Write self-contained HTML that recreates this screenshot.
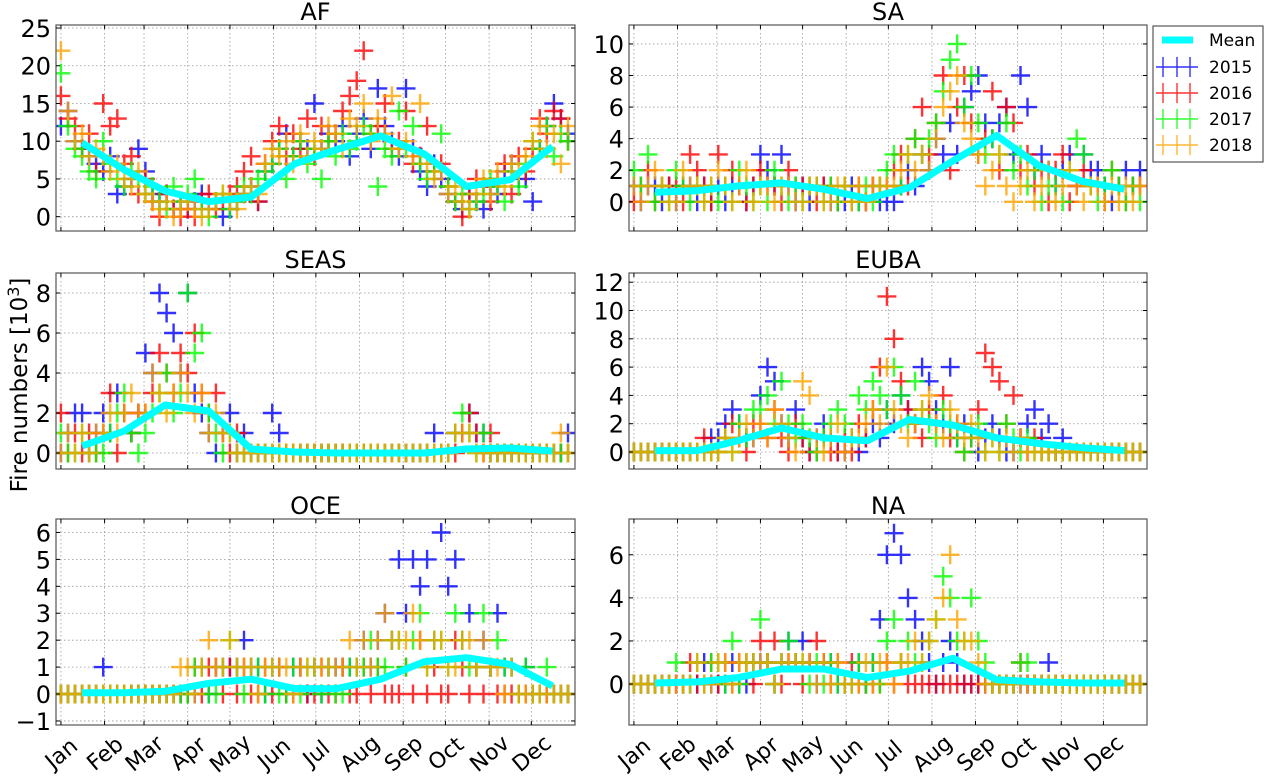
<!DOCTYPE html>
<html><head><meta charset="utf-8">
<style>
html,body{margin:0;padding:0;background:#fff;}
svg{display:block;font-family:"DejaVu Sans","Liberation Sans",sans-serif;}
</style></head>
<body>
<svg id="chart" width="1266" height="776" viewBox="0 0 1266 776" xmlns="http://www.w3.org/2000/svg"></svg>
<script>
// ---- data ----
const monthLabels = ["Jan","Feb","Mar","Apr","May","Jun","Jul","Aug","Sep","Oct","Nov","Dec"];
const monthStarts = [0,31,59,90,120,151,181,212,243,273,304,334];
const monthMids = [15,45,74,105,135,166,196,227,258,288,319,349];
const sampleStep = 5; // days between plotted samples
const years = ["2015","2016","2017","2018"];
const yearColors = ["#0000ff","#ff0000","#00ff00","#ffa500"];
const panelNames = ["AF","SA","SEAS","EUBA","OCE","NA"];

const meanAF = [9.8,6.2,3.4,2.0,2.6,7.0,8.9,10.7,8.3,4.0,4.9,9.3];
const meanSA = [0.6,0.7,1.0,1.2,0.8,0.2,0.9,2.6,4.2,2.3,1.3,0.8];
const meanSEAS = [0.35,1.1,2.4,2.1,0.2,0.05,0,0,0,0.2,0.25,0.1];
const meanEUBA = [0.1,0.1,0.8,1.7,1.0,0.8,2.3,1.9,1.0,0.6,0.3,0.1];
const meanOCE = [0.05,0.05,0.1,0.4,0.55,0.2,0.2,0.55,1.2,1.35,1.1,0.3];
const meanNA = [0.05,0.1,0.3,0.7,0.7,0.3,0.6,1.2,0.2,0.1,0.05,0.05];

const AF2015 = [12,14,10,9,8,7, 6,8,3,4,5,9, 6,3,2,3,1,2, 1,2,3,1,2,0, 1,2,3,4,2,6, 7,9,11,8,10,9, 15,9,11,10,12,8, 11,13,9,17,12,10, 8,17,9,6,4,7, 5,3,2,1,3,2, 1,4,3,6,7,5, 5,2,9,12,15,13,11];
const AF2016 = [16,13,12,9,11,6, 15,12,13,7,8,3, 5,2,0,3,1,0, 1,0,2,3,1,2, 3,4,6,8,2,7, 10,12,8,11,9,13, 8,12,10,11,14,16, 18,22,11,12,15,9, 10,14,7,8,12,6, 7,4,2,0,3,5, 4,2,5,7,3,8, 6,9,13,11,14,13,10];
const AF2017 = [19,12,9,8,6,5, 10,7,5,4,6,5, 3,4,2,1,4,2, 3,5,1,0,2,3, 1,2,4,3,5,6, 7,9,5,8,10,7, 9,5,10,8,11,9, 10,12,11,4,9,8, 14,9,12,7,5,6, 11,4,2,3,1,2, 3,5,4,2,6,4, 7,10,9,12,8,11,10];
const AF2018 = [22,14,10,11,8,9, 8,6,7,5,4,6, 3,2,1,2,0,1, 2,1,0,1,2,3, 2,1,3,4,3,7, 9,8,10,7,11,8, 10,9,12,11,9,13, 12,15,10,13,11,16, 9,10,8,15,7,5, 6,3,4,2,1,3, 5,3,6,4,7,6, 8,10,12,9,11,7,12];

const SA2015 = [1,0,1,1,0,1, 0,1,1,0,1,0, 1,0,1,1,0,1, 3,2,1,3,1,0, 1,0,1,1,0,0, 0,1,0,0,1,0, 0,0,1,2,1,3, 2,4,3,5,3,6, 7,8,5,4,5,6, 3,8,6,2,3,2, 1,2,3,1,3,2, 2,1,0,1,2,1,2];
const SA2016 = [0,1,2,0,1,1, 1,0,3,2,1,0, 3,1,2,1,0,1, 2,1,1,0,2,1, 1,1,0,1,1,0, 1,0,1,0,1,1, 1,2,3,1,4,6, 3,5,8,2,6,8, 5,3,4,7,2,6, 5,2,3,1,2,0, 2,3,0,1,2,1, 1,0,2,1,0,1,1];
const SA2017 = [2,1,3,0,1,0, 2,1,0,1,0,1, 0,1,0,2,1,0, 1,0,2,1,0,1, 0,1,1,0,1,0, 1,0,0,1,0,1, 2,3,1,3,4,3, 4,5,7,9,10,6, 8,5,3,4,3,5, 2,3,1,2,0,1, 1,0,2,4,3,1, 0,1,2,1,0,1,0];
const SA2018 = [1,0,1,2,1,0, 0,2,1,1,0,1, 2,1,0,1,2,0, 1,1,0,1,1,0, 0,1,1,0,0,1, 1,0,1,0,1,1, 1,1,2,3,2,3, 2,4,6,7,8,5, 4,3,1,2,3,1, 0,1,2,0,1,2, 0,1,2,1,0,1, 1,0,1,0,1,0,1];

const SEAS2015 = [0,1,2,2,0,1, 2,1,3,2,1,2, 5,4,8,7,6,4, 8,3,2,1,0,1, 2,0,1,0,0,0, 2,1,0,0,0,0, 0,0,0,0,0,0, 0,0,0,0,0,0, 0,0,0,0,0,1, 0,0,1,1,2,1, 1,0,0,0,0,0, 0,0,0,0,0,0,1];
const SEAS2016 = [2,0,1,0,1,0, 1,3,0,2,1,2, 2,3,5,4,3,5, 4,6,3,2,3,1, 0,1,0,0,0,0, 0,0,0,0,0,0, 0,0,0,0,0,0, 0,0,0,0,0,0, 0,0,0,0,0,0, 0,0,0,1,2,1, 0,1,0,0,0,0, 0,0,0,0,0,0,0];
const SEAS2017 = [1,0,0,1,0,0, 0,1,2,3,1,0, 1,2,3,4,2,3, 8,5,6,2,1,0, 1,0,0,0,0,0, 0,0,0,0,0,0, 0,0,0,0,0,0, 0,0,0,0,0,0, 0,0,0,0,0,0, 0,0,1,2,1,0, 1,0,0,0,0,0, 0,0,0,0,0,0,0];
const SEAS2018 = [0,1,0,1,0,1, 1,2,1,2,3,2, 2,4,3,2,3,4, 3,2,3,1,2,1, 1,0,0,0,0,0, 0,0,0,0,0,0, 0,0,0,0,0,0, 0,0,0,0,0,0, 0,0,0,0,0,0, 0,0,1,1,1,0, 0,0,0,0,0,0, 0,0,0,0,0,1,0];

const EUBA2015 = [0,0,0,0,0,0, 0,0,0,0,0,1, 1,2,3,2,1,1, 4,6,5,2,1,3, 1,0,1,2,1,0, 0,1,0,1,2,1, 3,2,4,3,2,6, 5,3,2,6,1,2, 1,0,1,2,1,0, 0,1,2,3,1,2, 0,1,0,0,0,0, 0,0,0,0,0,0,0];
const EUBA2016 = [0,0,0,0,0,0, 0,0,0,0,1,0, 0,1,2,1,0,2, 2,1,3,1,0,2, 1,0,0,1,0,0, 1,0,2,1,3,6, 11,8,5,3,2,1, 3,2,4,1,2,0, 1,3,7,6,5,2, 4,1,0,1,0,0, 0,0,0,0,0,0, 0,0,0,0,0,0,0];
const EUBA2017 = [0,0,0,0,0,0, 0,0,0,0,0,0, 0,1,0,2,1,3, 3,4,2,5,2,1, 2,1,0,1,2,3, 2,1,4,3,5,4, 3,6,4,2,5,3, 2,1,3,2,1,0, 1,2,0,1,0,2, 1,0,1,0,0,0, 0,0,0,0,0,0, 0,0,0,0,0,0,0];
const EUBA2018 = [0,0,0,0,0,0, 0,0,0,0,0,0, 0,1,0,1,2,1, 2,1,3,2,1,0, 5,4,1,0,1,2, 0,1,1,2,3,2, 6,3,2,1,2,3, 4,2,1,3,2,1, 2,1,0,1,0,1, 0,1,0,0,0,0, 0,0,0,0,0,0, 0,0,0,0,0,0,0];

const OCE2015 = [0,0,0,0,0,0, 1,0,0,0,0,0, 0,0,0,0,0,0, 0,0,1,0,1,1, 1,1,2,1,1,0, 1,1,0,1,1,0, 1,0,1,1,1,1, 1,2,1,2,3,2, 5,3,5,4,5,2, 6,4,5,2,3,1, 2,1,3,1,1,0, 1,0,0,0,0,0,0];
const OCE2016 = [0,0,0,0,0,0, 0,0,0,0,0,0, 0,0,0,0,0,0, 0,1,0,1,1,0, 1,0,1,0,0,1, 0,1,0,0,1,0, 0,1,0,0,1,0, 0,1,0,1,0,0, 0,1,0,2,0,1, 0,0,2,1,0,1, 0,1,0,0,0,0, 0,0,0,0,0,0,0];
const OCE2017 = [0,0,0,0,0,0, 0,0,0,0,0,0, 0,0,0,0,0,0, 0,1,1,0,0,1, 2,1,0,1,1,0, 1,0,0,1,0,1, 1,0,1,0,0,1, 1,1,2,1,1,2, 2,1,2,3,1,2, 2,1,3,2,1,1, 3,1,2,1,1,0, 1,0,0,1,0,0,0];
const OCE2018 = [0,0,0,0,0,0, 0,0,0,0,0,0, 0,0,0,0,0,1, 1,0,1,2,1,1, 2,1,1,1,0,1, 1,1,1,0,1,1, 1,1,1,1,1,2, 1,2,1,2,3,2, 2,2,3,2,1,2, 2,1,1,2,2,1, 2,1,1,0,1,0, 0,0,0,0,0,0,0];

const NA2015 = [0,0,0,0,0,0, 0,0,0,0,1,0, 0,0,1,0,0,1, 1,1,0,1,2,1, 2,1,0,1,1,0, 0,0,1,0,1,3, 6,7,6,4,3,2, 1,0,1,2,1,0, 0,0,0,0,0,0, 0,0,0,0,0,1, 0,0,0,0,0,0, 0,0,0,0,0,0,0];
const NA2016 = [0,0,0,0,0,0, 0,0,1,0,0,1, 0,1,0,1,1,0, 2,1,2,0,1,1, 0,1,2,1,0,1, 0,1,0,0,0,0, 1,0,1,0,0,0, 0,0,0,0,0,0, 0,0,0,0,0,0, 0,1,0,0,0,0, 0,0,0,0,0,0, 0,0,0,0,0,0,0];
const NA2017 = [0,0,0,0,0,0, 1,0,0,1,0,1, 1,0,2,0,1,1, 3,1,0,1,2,1, 1,0,1,0,1,0, 0,0,1,0,1,0, 2,3,1,2,1,1, 2,3,5,4,2,2, 4,2,1,0,0,0, 0,1,1,0,0,0, 0,0,0,0,0,0, 0,0,0,0,0,0,0];
const NA2018 = [0,0,0,0,0,0, 0,0,0,1,0,0, 1,1,0,1,1,1, 1,1,0,1,1,1, 1,1,0,1,0,1, 0,0,0,1,0,1, 1,0,1,1,2,1, 2,3,4,6,3,2, 2,1,0,0,0,0, 0,0,0,0,0,0, 0,0,0,0,0,0, 0,0,0,0,0,0,0];

const ticksAF = [0,5,10,15,20,25];
const ticksSA = [0,2,4,6,8,10];
const ticksSEAS = [0,2,4,6,8];
const ticksEUBA = [0,2,4,6,8,10,12];
const ticksOCE = [-1,0,1,2,3,4,5,6];
const ticksNA = [0,2,4,6];

// ---- layout ----
const NS = "http://www.w3.org/2000/svg";
const svg = document.getElementById("chart");
function mk(tag, attrs, parent){
  const e = document.createElementNS(NS, tag);
  for (const k in attrs) e.setAttribute(k, attrs[k]);
  (parent||svg).appendChild(e);
  return e;
}
const cols = [[56,575],[629,1147]];
const rows = [[25,231],[273,469],[519,725]];
const panels = [
  {name:"AF", c:0, r:0, ylim:[-1.9,25.4], ticks:ticksAF, mean:meanAF, series:[AF2015,AF2016,AF2017,AF2018]},
  {name:"SA", c:1, r:0, ylim:[-1.85,11.2], ticks:ticksSA, mean:meanSA, series:[SA2015,SA2016,SA2017,SA2018]},
  {name:"SEAS", c:0, r:1, ylim:[-0.8,9.0], ticks:ticksSEAS, mean:meanSEAS, series:[SEAS2015,SEAS2016,SEAS2017,SEAS2018]},
  {name:"EUBA", c:1, r:1, ylim:[-1.2,12.65], ticks:ticksEUBA, mean:meanEUBA, series:[EUBA2015,EUBA2016,EUBA2017,EUBA2018]},
  {name:"OCE", c:0, r:2, ylim:[-1.15,6.5], ticks:ticksOCE, mean:meanOCE, series:[OCE2015,OCE2016,OCE2017,OCE2018]},
  {name:"NA", c:1, r:2, ylim:[-1.9,7.66], ticks:ticksNA, mean:meanNA, series:[NA2015,NA2016,NA2017,NA2018]},
];
const xlim = [-3.5, 365];

panels.forEach(p => {
  const [x0,x1] = cols[p.c], [y0,y1] = rows[p.r];
  const xs = d => x0 + (d - xlim[0]) / (xlim[1]-xlim[0]) * (x1-x0);
  const ys = v => y1 - (v - p.ylim[0]) / (p.ylim[1]-p.ylim[0]) * (y1-y0);
  const g = mk("g", {});
  
  
  const clipId = "clip-" + p.name;
  const cp = mk("clipPath", {id: clipId}, g);
  mk("rect", {x:x0, y:y0, width:x1-x0, height:y1-y0}, cp);

  // grid
  const grid = mk("g", {stroke:"#999", "stroke-width":0.8, "stroke-dasharray":"1.5,2.5"}, g);
  
  
  monthStarts.forEach(d => mk("line", {x1:xs(d), x2:xs(d), y1:y0, y2:y1}, grid));
  p.ticks.forEach(t => mk("line", {x1:x0, x2:x1, y1:ys(t), y2:ys(t)}, grid));

  // scatter
  const sc = mk("g", {"clip-path":"url(#"+clipId+")"}, g);
  p.series.forEach((arr, si) => {
    let d = "";
    arr.forEach((v, i) => {
      const cx = xs(i*sampleStep), cy = ys(v);
      d += "M"+(cx-9.5).toFixed(1)+" "+cy.toFixed(1)+"h19M"+cx.toFixed(1)+" "+(cy-9.5).toFixed(1)+"v19";
    });
    const path = mk("path", {d:d, stroke:yearColors[si], "stroke-width":2.4, fill:"none", "stroke-opacity":0.8}, sc);
    
    
  });
  // mean line
  const pts = p.mean.map((v,i) => xs(monthMids[i]).toFixed(1)+","+ys(v).toFixed(1)).join(" ");
  const ml = mk("polyline", {points:pts, fill:"none", stroke:"#00ffff", "stroke-width":7, "stroke-linejoin":"round"}, sc);
  
  

  // frame
  const fr = mk("rect", {x:x0, y:y0, width:x1-x0, height:y1-y0, fill:"none", stroke:"#555", "stroke-width":1.2}, g);
  
  
  // ticks
  const tk = mk("g", {stroke:"#000", "stroke-width":1}, g);
  monthStarts.forEach(d => { mk("line",{x1:xs(d),x2:xs(d),y1:y1,y2:y1-4},tk); mk("line",{x1:xs(d),x2:xs(d),y1:y0,y2:y0+4},tk); });
  p.ticks.forEach(t => { mk("line",{x1:x0,x2:x0+4,y1:ys(t),y2:ys(t)},tk); mk("line",{x1:x1,x2:x1-4,y1:ys(t),y2:ys(t)},tk); });
  // y tick labels
  p.ticks.forEach(t => {
    const tl = mk("text", {x:x0-5, y:ys(t)+9, "text-anchor":"end", "font-size":24, fill:"#000"}, g);
    tl.textContent = t < 0 ? "\u2212" + Math.abs(t) : String(t);
    
    
  });
  // title
  const tt = mk("text", {x:(x0+x1)/2, y:y0-5, "text-anchor":"middle", "font-size":24, fill:"#000"}, g);
  tt.textContent = p.name;
  
  
  // x tick labels (bottom row only)
  if (p.r === 2) {
    monthStarts.forEach((d, i) => {
      const cx = xs(d), cy = y1 + 28;
      const xl = mk("text", {x:cx, y:cy+8, "text-anchor":"middle", "font-size":22, fill:"#000", transform:"rotate(-40 "+cx+" "+cy+")"}, g);
      xl.textContent = monthLabels[i];
      
      
    });
  }
});

// y-axis title
const yt = mk("text", {x:0, y:0, "text-anchor":"middle", "font-size":23, fill:"#000", transform:"translate(27 385) rotate(-90)"});


yt.textContent = "Fire numbers [10";
const sup = mk("tspan", {dy:-8, "font-size":16}, yt);
sup.textContent = "3";
const sup2 = mk("tspan", {dy:8}, yt);
sup2.textContent = "]";

// legend
const lg = mk("g", {});


mk("rect", {x:1153, y:26, width:110, height:136, fill:"#fff", stroke:"#333", "stroke-width":1}, lg);
const meanEntry = mk("g", {}, lg);


mk("line", {x1:1162, x2:1193, y1:40, y2:40, stroke:"#00ffff", "stroke-width":7}, meanEntry);
const mt = mk("text", {x:1209, y:46, "font-size":17, fill:"#000"}, meanEntry);
mt.textContent = "Mean";
years.forEach((yr, i) => {
  const cy = 67 + i*26;
  const e = mk("g", {}, lg);
  
  
  let d = "M1156 "+cy+"h42";
  [1163,1177,1190].forEach(cx => { d += "M"+cx+" "+(cy-10)+"v20"; });
  mk("path", {d:d, stroke:yearColors[i], "stroke-width":1.4, fill:"none", "stroke-opacity":0.8}, e);
  const t = mk("text", {x:1209, y:cy+6, "font-size":17, fill:"#000"}, e);
  t.textContent = yr;
});
</script>
</body></html>
